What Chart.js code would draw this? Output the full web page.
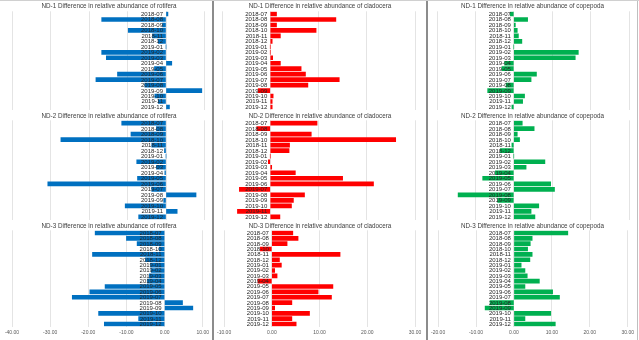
<!DOCTYPE html>
<html>
<head>
<meta charset="utf-8">
<script src="https://cdn.jsdelivr.net/npm/chart.js@4/dist/chart.umd.min.js"></script>
<style>
  html, body { margin: 0; padding: 0; background: #fff; }
  #wrap { position: relative; width: 639px; height: 340px; overflow: hidden; background: #fff; }
  #wrap canvas { position: absolute; }
  .line { position: absolute; }
</style>
</head>
<body>
<div id="wrap"></div>
<script>
// Sampling months (category axis)
const months = ['2018-07', '2018-08', '2018-09', '2018-10', '2018-11', '2018-12',
                '2019-01', '2019-02', '2019-03', '2019-04', '2019-05', '2019-06',
                '2019-07', '2019-08', '2019-09', '2019-10', '2019-11', '2019-12'];

// Value-axis tick labels for each taxon column
const rotiferaTicks  = [-40, -30, -20, -10, 0, 10];
const cladoceraTicks = [-10, 0, 10, 20, 30];
const copepodaTicks  = [-20, -10, 0, 10, 20, 30];

// Difference in relative abundance (%), rotifera
const nd1Rotifera = [0.5, -16.7, -0.9, -9.8, -3.5, -2.0, 0, -16.7, -15.5, 1.5, -3.0, -12.6, -18.2, -5.5, 9.3, -2.9, -2.0, 0.9];
const nd2Rotifera = [-11.5, -2.5, -9.1, -27.3, -3.7, -0.4, 0, -7.6, -2.5, -0.3, -7.4, -30.7, -3.7, 7.8, -0.6, -10.6, 2.9, -7.1];
const nd3Rotifera = [-18.2, -10.0, -7.2, -1.4, -18.9, -5.0, -3.7, -3.5, -4.0, -4.5, -15.6, -19.6, -24.2, 4.7, 7.4, -17.3, -6.8, -15.8];

// Difference in relative abundance (%), cladocera
const nd1Cladocera = [1.3, 13.6, 1.3, 9.5, 2.1, 0.4, 0, 0, 0.5, 2.1, 6.4, 7.3, 14.3, 7.8, -2.5, 0.6, 0.4, 0.4];
const nd2Cladocera = [9.7, -2.8, 8.5, 26.0, 4.0, 3.9, 0, -0.4, 0.3, 5.2, 15.0, 21.4, -6.4, 7.1, 4.8, 4.4, -6.8, 2.0];
const nd3Cladocera = [4.4, 5.5, 3.2, -2.4, 14.3, 1.6, 2.0, 0.6, 1.1, -2.9, 12.8, 9.7, 12.5, 4.2, 0.6, 7.9, 4.2, 5.1];

// Difference in relative abundance (%), copepoda
const nd1Copepoda = [-0.9, 3.6, 0.4, 0.9, 1.2, 2.1, 0, 16.8, 16.0, -2.4, -3.1, 5.9, 4.5, -2.0, -6.8, 2.8, 2.3, -0.5];
const nd2Copepoda = [2.2, 5.3, 0.9, 1.5, -0.5, -3.5, 0, 8.1, 3.2, -4.8, -8.1, 9.6, 10.6, -14.5, -4.2, 6.5, 4.5, 5.5];
const nd3Copepoda = [14.2, 4.8, 4.3, 3.6, 4.8, 4.2, 1.9, 2.9, 3.5, 6.7, 2.9, 10.2, 12.0, -6.3, -7.6, 9.7, 2.9, 10.9];

const stations = ['ND-1', 'ND-2', 'ND-3'];

const columns = [
  { taxon: 'rotifera',  color: '#0070C0', ticks: rotiferaTicks,  series: [nd1Rotifera, nd2Rotifera, nd3Rotifera],
    left: 0,   width: 212, padL: 12, padR: 7.5, titleDx: 3 },
  { taxon: 'cladocera', color: '#FF0000', ticks: cladoceraTicks, series: [nd1Cladocera, nd2Cladocera, nd3Cladocera],
    left: 214, width: 212, padL: 8,  padR: 11,  titleDx: 0 },
  { taxon: 'copepoda',  color: '#00B050', ticks: copepodaTicks,  series: [nd1Copepoda, nd2Copepoda, nd3Copepoda],
    left: 428, width: 209, padL: 9,  padR: 8,   titleDx: 0 }
];

const rows = [
  { top: 0,   height: 110, padT: 11.3, padB: 0.3, showTicks: false },
  { top: 110, height: 110, padT: 10.3, padB: 0.3, showTicks: false },
  { top: 220, height: 120, padT: 10.3, padB: 1.3, showTicks: true }
];

// Draws the panel title and the month labels beside the zero line
const panelText = {
  id: 'panelText',
  afterDatasetsDraw(chart, args, opts) {
    const { ctx } = chart;
    const x = chart.scales.x, y = chart.scales.y;
    const x0 = x.getPixelForValue(0);
    ctx.save();
    ctx.font = '6px "Liberation Sans Narrow", "Liberation Sans", sans-serif';
    ctx.fillStyle = '#262626';
    ctx.textAlign = 'right';
    ctx.textBaseline = 'middle';
    chart.data.labels.forEach((lab, i) => {
      ctx.fillText(lab, x0 - 3, y.getPixelForValue(i) + 0.3);
    });
    ctx.font = '6.3px "Liberation Sans", sans-serif';
    ctx.fillStyle = '#404040';
    ctx.textAlign = 'center';
    ctx.fillText(opts.text, chart.width / 2 + opts.dx, 6.5);
    ctx.restore();
  }
};

const wrap = document.getElementById('wrap');

columns.forEach(col => {
  rows.forEach((row, r) => {
    const cv = document.createElement('canvas');
    cv.width = col.width;
    cv.height = row.height;
    cv.style.left = col.left + 'px';
    cv.style.top = row.top + 'px';
    cv.style.width = col.width + 'px';
    cv.style.height = row.height + 'px';
    wrap.appendChild(cv);

    new Chart(cv, {
      type: 'bar',
      data: {
        labels: months,
        datasets: [{
          data: col.series[r],
          backgroundColor: col.color,
          borderWidth: 0,
          barThickness: 4
        }]
      },
      options: {
        indexAxis: 'y',
        responsive: false,
        animation: false,
        devicePixelRatio: 1,
        layout: { padding: { left: col.padL, right: col.padR, top: row.padT, bottom: row.padB } },
        plugins: {
          legend: { display: false },
          tooltip: { enabled: false },
          title: { display: false },
          panelText: { text: stations[r] + ' Difference in relative abundance of ' + col.taxon, dx: col.titleDx }
        },
        scales: {
          y: { type: 'category', display: false, offset: true },
          x: {
            type: 'linear',
            min: col.ticks[0],
            max: col.ticks[col.ticks.length - 1],
            afterBuildTicks: axis => { axis.ticks = col.ticks.map(v => ({ value: v })); },
            grid: { color: '#e4e4e4', lineWidth: 1, drawTicks: false },
            border: { display: false },
            ticks: {
              display: row.showTicks,
              padding: 3,
              maxRotation: 0,
              autoSkip: false,
              color: '#595959',
              font: { family: '"Liberation Sans", sans-serif', size: 5 },
              callback: v => Number(v).toFixed(2)
            }
          }
        }
      },
      plugins: [panelText]
    });
  });
});

// Frame lines between and around the columns
[
  { left: 212, top: 0, width: 2, height: 340, bg: '#8c8c8c' },
  { left: 426, top: 0, width: 2, height: 340, bg: '#8c8c8c' },
  { left: 637, top: 0, width: 1, height: 340, bg: '#bfbfbf' },
  { left: 0,   top: 0, width: 639, height: 1, bg: '#d0d0d0' }
].forEach(l => {
  const d = document.createElement('div');
  d.className = 'line';
  d.style.left = l.left + 'px';
  d.style.top = l.top + 'px';
  d.style.width = l.width + 'px';
  d.style.height = l.height + 'px';
  d.style.background = l.bg;
  wrap.appendChild(d);
});
</script>
</body>
</html>
